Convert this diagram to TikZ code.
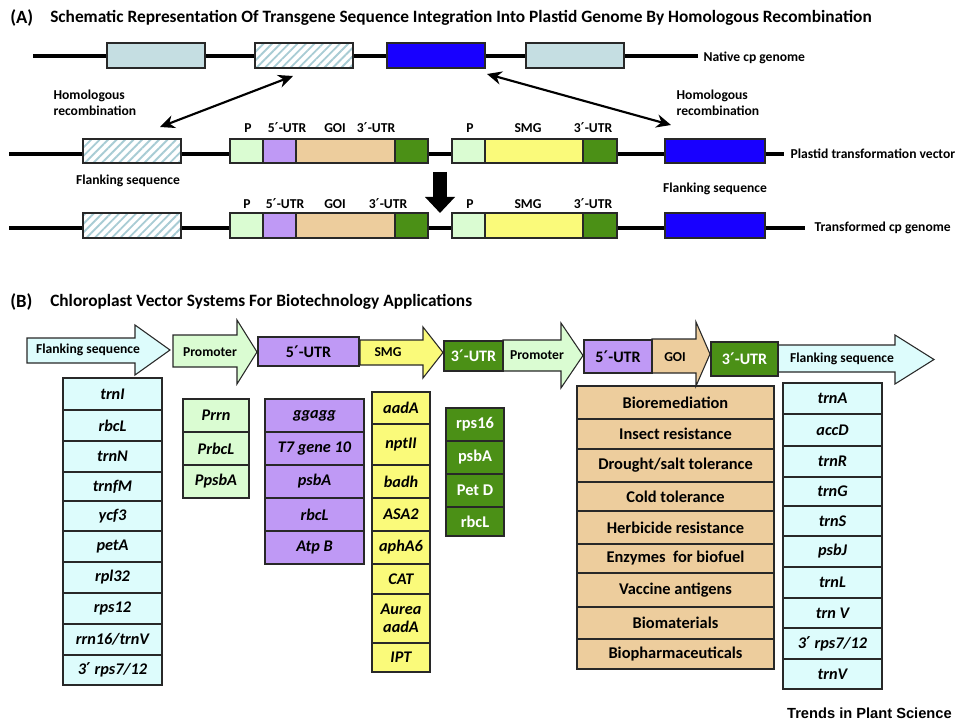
\documentclass[tikz,border=0pt]{standalone}
\usepackage{fontspec}
\setmainfont{Carlito}
\newfontfamily\trendsfont{Liberation Sans}
\newfontfamily\primefont{DejaVu Sans}
\newcommand{\prm}{{\primefont\bfseries\upshape\kern0.02em′\kern0.02em}}
\usetikzlibrary{arrows.meta,patterns.meta}
\definecolor{natgray}{RGB}{197,222,226}
\definecolor{hatchc}{RGB}{168,204,212}
\definecolor{blueb}{RGB}{24,0,255}
\definecolor{pgreen}{RGB}{218,252,210}
\definecolor{upurple}{RGB}{191,153,245}
\definecolor{goitan}{RGB}{237,205,157}
\definecolor{dgreen}{RGB}{75,144,22}
\definecolor{syellow}{RGB}{250,250,122}
\definecolor{fcyan}{RGB}{221,252,252}
\definecolor{edge}{RGB}{40,40,40}
\tikzset{
  cellbase/.style={draw=edge,line width=0.8pt,inner sep=0pt,outer sep=0pt,anchor=center,align=center},
  hatched/.style={preaction={fill=white},preaction={pattern={Lines[angle=45,distance=4.5pt,line width=1.4pt]},pattern color=hatchc}},
  genome/.style={line width=3pt,black},
  alab/.style={font=\bfseries\fontsize{10.2}{12}\selectfont,inner sep=1pt},
  ttl/.style={font=\bfseries\fontsize{13}{15}\selectfont,anchor=west,inner sep=0pt},
  pan/.style={font=\bfseries\fontsize{14}{16}\selectfont,anchor=west,inner sep=0pt},
  blab/.style={font=\bfseries\fontsize{10.2}{12}\selectfont,inner sep=0pt},
  ulab/.style={font=\bfseries\fontsize{12}{13}\selectfont},
  itl/.style={font=\bfseries\itshape\fontsize{12.2}{13.2}\selectfont},
  upl/.style={font=\bfseries\fontsize{12.3}{13.3}\selectfont},
  arrowbase/.style={draw=edge,line width=0.8pt,line join=miter},
  dbl/.style={{Stealth[length=11pt,width=10pt]}-{Stealth[length=11pt,width=10pt]},line width=1.6pt},
}
\newcommand{\cellnode}[7][]{\node[cellbase,minimum width={(#5-#3)*0.75pt},minimum height={(#6-#4)*0.75pt},#1] (#2) at ({(#3+#5)/2},{(#4+#6)/2}) {#7};}
\newcommand{\barrow}[8]{\draw[arrowbase,fill=#8] (#1,#4) -- (#2,#4) -- (#2,#6) -- (#3,{(#6+#7)/2}) -- (#2,#7) -- (#2,#5) -- (#1,#5) -- cycle;}
\begin{document}
\begin{tikzpicture}[x=0.75pt,y=-0.75pt]
\useasboundingbox (0,0) rectangle (959,723);
% ---------------- Part A ----------------
\node[pan] (pA) at (10,18) {(A)};
\node[ttl] (tA) at (50,18) {Schematic Representation Of Transgene Sequence Integration Into Plastid Genome By Homologous Recombination};
% native genome
\coordinate (g1s) at (33,56); \coordinate (g1e) at (698,56);
\draw[genome] (g1s) -- (g1e);
\cellnode[fill=natgray]{n1}{107}{43}{205}{68}{}
\cellnode[hatched]{n2}{255}{43}{353}{68}{}
\cellnode[fill=blueb]{n3}{387}{43}{485}{68}{}
\cellnode[fill=natgray]{n4}{526}{43}{624}{68}{}
\node[alab,anchor=west] (lnat) at (702,58) {Native cp genome};
% vector
\coordinate (g2s) at (9,154); \coordinate (g2e) at (784,154);
\draw[genome] (g2s) -- (g2e);
\cellnode[hatched]{v1}{83}{139}{181}{163}{}
\cellnode[fill=pgreen]{vP}{230}{139}{263}{163}{}
\cellnode[fill=upurple]{v5}{263}{139}{296}{163}{}
\cellnode[fill=goitan]{vG}{296}{139}{395}{163}{}
\cellnode[fill=dgreen]{v3}{395}{139}{428}{163}{}
\cellnode[fill=pgreen]{vP2}{452}{139}{485}{163}{}
\cellnode[fill=syellow]{vS}{485}{139}{583}{163}{}
\cellnode[fill=dgreen]{v32}{583}{139}{617}{163}{}
\cellnode[fill=blueb]{v4}{665}{139}{765}{163}{}
\node[alab,anchor=west] (lvec) at (789,154) {Plastid transformation vector};
\node[alab] (a1) at (248,128) {P};
\node[alab] (a2) at (287,128) {5\prm-UTR};
\node[alab] (a3) at (335,128) {GOI};
\node[alab] (a4) at (376,128) {3\prm-UTR};
\node[alab] (a5) at (470,128) {P};
\node[alab] (a6) at (528,128) {SMG};
\node[alab] (a7) at (593,128) {3\prm-UTR};
% transformed
\coordinate (g3s) at (9,228); \coordinate (g3e) at (805,228);
\draw[genome] (g3s) -- (g3e);
\cellnode[hatched]{t1}{83}{213}{181}{238}{}
\cellnode[fill=pgreen]{tP}{230}{213}{263}{238}{}
\cellnode[fill=upurple]{t5}{263}{213}{296}{238}{}
\cellnode[fill=goitan]{tG}{296}{213}{395}{238}{}
\cellnode[fill=dgreen]{t3}{395}{213}{428}{238}{}
\cellnode[fill=pgreen]{tP2}{452}{213}{485}{238}{}
\cellnode[fill=syellow]{tS}{485}{213}{583}{238}{}
\cellnode[fill=dgreen]{t32}{583}{213}{617}{238}{}
\cellnode[fill=blueb]{t4}{665}{213}{765}{238}{}
\node[alab,anchor=west] (ltr) at (813,228) {Transformed cp genome};
\node[alab] (b1) at (247,204) {P};
\node[alab] (b2) at (285,204) {5\prm-UTR};
\node[alab] (b3) at (335,204) {GOI};
\node[alab] (b4) at (388,204) {3\prm-UTR};
\node[alab] (b5) at (470,204) {P};
\node[alab] (b6) at (528,204) {SMG};
\node[alab] (b7) at (593,204) {3\prm-UTR};
% labels
\node[alab] (fl1) at (128,181) {Flanking sequence};
\node[alab] (fl2) at (715,189) {Flanking sequence};
\node[alab,anchor=west,align=left] (hr1) at (52,103) {Homologous\\recombination};
\node[alab,anchor=west,align=left] (hr2) at (675,103) {Homologous\\recombination};
% arrows
\coordinate (d1a) at (293,76); \coordinate (d1b) at (160,127);
\coordinate (d2a) at (487,74); \coordinate (d2b) at (671,125);
\draw[dbl] (d1a) -- (d1b);
\draw[dbl] (d2a) -- (d2b);
\coordinate (dn1) at (440,172); \coordinate (dn2) at (440,213);
\draw[line width=10.5pt,-{Triangle[length=12pt,width=21.75pt]}] (dn1) -- (dn2);
% ---------------- Part B ----------------
\node[pan] (pB) at (10,302) {(B)};
\node[ttl] (tB) at (50,302) {Chloroplast Vector Systems For Biotechnology Applications};
% lists
\cellnode[fill=fcyan,itl]{fa1}{63}{378}{162}{410}{trnI}
\cellnode[fill=fcyan,itl]{fa2}{63}{410}{162}{441}{rbcL}
\cellnode[fill=fcyan,itl]{fa3}{63}{441}{162}{472}{trnN}
\cellnode[fill=fcyan,itl]{fa4}{63}{472}{162}{501}{trnfM}
\cellnode[fill=fcyan,itl]{fa5}{63}{501}{162}{531}{ycf3}
\cellnode[fill=fcyan,itl]{fa6}{63}{531}{162}{562}{petA}
\cellnode[fill=fcyan,itl]{fa7}{63}{562}{162}{593}{rpl32}
\cellnode[fill=fcyan,itl]{fa8}{63}{593}{162}{624}{rps12}
\cellnode[fill=fcyan,itl]{fa9}{63}{624}{162}{655}{rrn16/trnV}
\cellnode[fill=fcyan,itl]{fa10}{63}{655}{162}{685}{3\prm\ rps7/12}
%
\cellnode[fill=pgreen,itl]{pr1}{183}{399}{249}{432}{Prrn}
\cellnode[fill=pgreen,itl]{pr2}{183}{432}{249}{465}{PrbcL}
\cellnode[fill=pgreen,itl]{pr3}{183}{465}{249}{498}{PpsbA}
%
\cellnode[fill=upurple,itl]{u1}{265}{399}{364}{432}{ggagg}
\cellnode[fill=upurple,itl]{u2}{265}{432}{364}{465}{T7 gene 10}
\cellnode[fill=upurple,itl]{u3}{265}{465}{364}{498}{psbA}
\cellnode[fill=upurple,itl]{u4}{265}{498}{364}{531}{rbcL}
\cellnode[fill=upurple,itl]{u5}{265}{531}{364}{564}{Atp B}
%
\cellnode[fill=syellow,itl]{s1}{372}{392}{430}{424}{aadA}
\cellnode[fill=syellow,itl]{s2}{372}{424}{430}{465}{nptII}
\cellnode[fill=syellow,itl]{s3}{372}{465}{430}{498}{badh}
\cellnode[fill=syellow,itl]{s4}{372}{498}{430}{531}{ASA2}
\cellnode[fill=syellow,itl]{s5}{372}{531}{430}{564}{aphA6}
\cellnode[fill=syellow,itl]{s6}{372}{564}{430}{594}{CAT}
\cellnode[fill=syellow,itl]{s7}{372}{594}{430}{643}{Aurea\\aadA}
\cellnode[fill=syellow,itl]{s8}{372}{643}{430}{672}{IPT}
%
\cellnode[fill=dgreen,upl,text=white]{g1}{446}{408}{504}{441}{rps16}
\cellnode[fill=dgreen,upl,text=white]{g2}{446}{441}{504}{474}{psbA}
\cellnode[fill=dgreen,upl,text=white]{g3}{446}{474}{504}{507}{Pet D}
\cellnode[fill=dgreen,upl,text=white]{g4}{446}{507}{504}{536}{rbcL}
%
\cellnode[fill=goitan,upl]{o1}{577}{386}{774}{419}{Bioremediation}
\cellnode[fill=goitan,upl]{o2}{577}{419}{774}{449}{Insect resistance}
\cellnode[fill=goitan,upl]{o3}{577}{449}{774}{482}{Drought/salt tolerance}
\cellnode[fill=goitan,upl]{o4}{577}{482}{774}{511}{Cold tolerance}
\cellnode[fill=goitan,upl]{o5}{577}{511}{774}{544}{Herbicide resistance}
\cellnode[fill=goitan,upl]{o6}{577}{544}{774}{573}{Enzymes\ \ for biofuel}
\cellnode[fill=goitan,upl]{o7}{577}{573}{774}{607}{Vaccine antigens}
\cellnode[fill=goitan,upl]{o8}{577}{607}{774}{639}{Biomaterials}
\cellnode[fill=goitan,upl]{o9}{577}{639}{774}{669}{Biopharmaceuticals}
%
\cellnode[fill=fcyan,itl]{fb1}{783}{383}{882}{414}{trnA}
\cellnode[fill=fcyan,itl]{fb2}{783}{414}{882}{446}{accD}
\cellnode[fill=fcyan,itl]{fb3}{783}{446}{882}{477}{trnR}
\cellnode[fill=fcyan,itl]{fb4}{783}{477}{882}{506}{trnG}
\cellnode[fill=fcyan,itl]{fb5}{783}{506}{882}{536}{trnS}
\cellnode[fill=fcyan,itl]{fb6}{783}{536}{882}{567}{psbJ}
\cellnode[fill=fcyan,itl]{fb7}{783}{567}{882}{598}{trnL}
\cellnode[fill=fcyan,itl]{fb8}{783}{598}{882}{628}{trn V}
\cellnode[fill=fcyan,itl]{fb9}{783}{628}{882}{659}{3\prm\ rps7/12}
\cellnode[fill=fcyan,itl]{fb10}{783}{659}{882}{689}{trnV}
% arrow row
\barrow{27}{135}{170}{338}{363}{325}{375}{fcyan}
\barrow{173}{237}{257}{335}{367}{320}{384}{pgreen}
\barrow{360}{423}{443}{340}{365}{327}{378}{syellow}
\barrow{503}{561}{583}{340}{371}{323}{388}{pgreen}
\barrow{652}{696}{710}{339}{373}{322}{386}{goitan}
\barrow{778}{895}{934}{345}{372}{335}{384}{fcyan}
\node[blab] (r1) at (88,350) {Flanking sequence};
\node[blab] (r2) at (210,352) {Promoter};
\cellnode[fill=upurple,ulab]{r3}{258}{337}{359}{366}{5\prm-UTR}
\node[blab] (r4) at (388,352) {SMG};
\cellnode[fill=dgreen,ulab,text=white]{r5}{444}{341}{503}{371}{3\prm-UTR}
\node[blab] (r6) at (537,355) {Promoter};
\cellnode[fill=upurple,ulab]{r7}{584}{340}{652}{373}{5\prm-UTR}
\node[blab] (r8) at (675,357) {GOI};
\cellnode[fill=dgreen,ulab,text=white]{r9}{711}{342}{778}{376}{3\prm-UTR}
\node[blab] (r10) at (842,359) {Flanking sequence};
% footer
\node[font=\trendsfont\bfseries\fontsize{11}{13}\selectfont,anchor=east,inner sep=0pt] (foot) at (952,713) {Trends in Plant Science};
\end{tikzpicture}
\end{document}
